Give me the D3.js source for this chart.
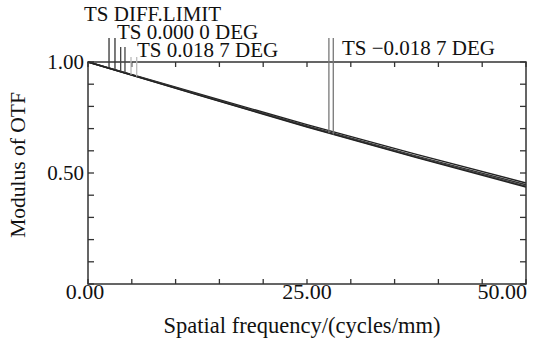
<!DOCTYPE html>
<html>
<head>
<meta charset="utf-8">
<script src="https://cdn.jsdelivr.net/npm/d3@7"></script>
<style>
  body { margin: 0; background: #fff; }
  svg { font-family: "Liberation Serif", "Times New Roman", serif; }
</style>
</head>
<body>
<div id="chart"></div>
<script>
// spatial frequency samples (cycles/mm)
const freqs = [0, 12.5, 25, 37.5, 50];
// MTF series
const diffLimit = [1.0, 0.858, 0.718, 0.584, 0.455];
const deg0 = [1.0, 0.855, 0.712, 0.576, 0.447];
const degPos = [1.0, 0.853, 0.709, 0.572, 0.441];
const degNeg = [1.0, 0.852, 0.707, 0.569, 0.437];

const seriesNames = ["TS DIFF.LIMIT", "TS 0.000 0 DEG", "TS 0.018 7 DEG", "TS \u22120.018 7 DEG"];
// frequencies where each series' identifying markers (T and S) sit
const markerFreqs = [[2.4, 3.08], [3.73, 4.22], [4.91, 5.56], [27.5, 28.0]];

const xTicks = [0, 25, 50];
const yTicks = [0.5, 1.0];

const width = 535;
const height = 345;
const margin = { top: 62, right: 9, bottom: 61, left: 88 };

const svg = d3.select("#chart").append("svg")
    .attr("width", width)
    .attr("height", height);

const x = d3.scaleLinear()
    .domain([0, 50])
    .range([margin.left, width - margin.right]);
const y = d3.scaleLinear()
    .domain([0, 1])
    .range([height - margin.bottom, margin.top]);

const frameColor = "#333";
const textColor = "#111";
const allSeries = [diffLimit, deg0, degPos, degNeg];

// minor ticks, drawn inward on all four sides
const xMinor = d3.range(0, 50.01, 5);
const yMinor = d3.range(0, 1.001, 0.1);
const tickG = svg.append("g").attr("stroke", frameColor).attr("stroke-width", 1.3);
xMinor.forEach(v => {
    tickG.append("line").attr("x1", x(v)).attr("x2", x(v)).attr("y1", y(0)).attr("y2", y(0) - 5);
    tickG.append("line").attr("x1", x(v)).attr("x2", x(v)).attr("y1", y(1)).attr("y2", y(1) + 5);
});
yMinor.forEach(v => {
    tickG.append("line").attr("x1", x(0)).attr("x2", x(0) + 6).attr("y1", y(v)).attr("y2", y(v));
    tickG.append("line").attr("x1", x(50)).attr("x2", x(50) - 6).attr("y1", y(v)).attr("y2", y(v));
});

// curves
const line = d3.line()
    .x((d, i) => x(freqs[i]))
    .y(d => y(d));
svg.append("g").selectAll("path")
    .data(allSeries)
    .enter().append("path")
    .attr("d", d => line(d))
    .attr("fill", "none")
    .attr("stroke", (d, i) => ["#222", "#333", "#444", "#222"][i])
    .attr("stroke-width", 1.4);

// frame
svg.append("rect")
    .attr("x", x(0)).attr("y", y(1))
    .attr("width", x(50) - x(0)).attr("height", y(0) - y(1))
    .attr("fill", "none")
    .attr("stroke", frameColor)
    .attr("stroke-width", 1.5);

// value of a series at frequency f (linear between samples)
const valueAt = (s, f) => {
    const i = Math.min(d3.bisectRight(freqs, f), freqs.length - 1);
    const t = (f - freqs[i - 1]) / (freqs[i] - freqs[i - 1]);
    return s[i - 1] + t * (s[i] - s[i - 1]);
};

// legend markers + labels
const markerTop = [38, 47, 57, 38];
const markerColor = ["#333", "#444", "#bbb", "#777"];
const labelPos = [[84, 21], [117, 39], [137, 57], [342, 55]];
const markG = svg.append("g");
markerFreqs.forEach((fs, k) => {
    fs.forEach(f => {
        markG.append("line")
            .attr("x1", x(f)).attr("x2", x(f))
            .attr("y1", markerTop[k])
            .attr("y2", y(valueAt(allSeries[k], f)))
            .attr("stroke", markerColor[k])
            .attr("stroke-width", 1.3);
    });
    markG.append("text")
        .attr("x", labelPos[k][0]).attr("y", labelPos[k][1])
        .attr("font-size", 21)
        .attr("fill", textColor)
        .text(seriesNames[k]);
});

// tick labels
svg.append("g").selectAll("text")
    .data(xTicks)
    .enter().append("text")
    .attr("x", d => d === 50 ? width - 8 : x(d) - (d === 0 ? 3 : 0))
    .attr("y", 299)
    .attr("text-anchor", d => d === 50 ? "end" : "middle")
    .attr("font-size", 22)
    .attr("fill", textColor)
    .text(d => d.toFixed(2));

svg.append("g").selectAll("text")
    .data(yTicks)
    .enter().append("text")
    .attr("x", x(0) - 4)
    .attr("y", d => y(d))
    .attr("dy", "0.35em")
    .attr("text-anchor", "end")
    .attr("font-size", 21)
    .attr("fill", textColor)
    .text(d => d.toFixed(2));

// axis titles
svg.append("text")
    .attr("x", x(25) - 5).attr("y", 333)
    .attr("text-anchor", "middle")
    .attr("font-size", 22.5)
    .attr("fill", textColor)
    .text("Spatial frequency/(cycles/mm)");

svg.append("text")
    .attr("transform", `translate(25,${(y(0) + y(1)) / 2 - 8}) rotate(-90)`)
    .attr("text-anchor", "middle")
    .attr("font-size", 21.5)
    .attr("fill", textColor)
    .text("Modulus of OTF");
</script>
</body>
</html>
